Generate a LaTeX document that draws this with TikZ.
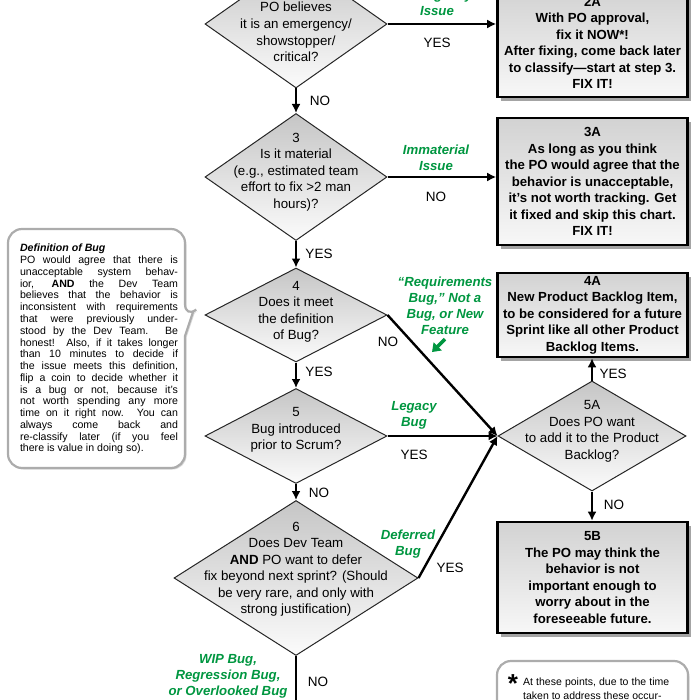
\documentclass[tikz,border=0pt]{standalone}
\usepackage{fontspec}
\setmainfont{Liberation Sans}
\usetikzlibrary{shapes.geometric, arrows.meta, shadows}

\definecolor{bugGreen}{RGB}{0,150,64}

\tikzstyle{decision} = [diamond, draw=black!85, line width=1pt, top color=gray!45, bottom color=gray!3, inner sep=0pt]
\tikzstyle{qtext} = [align=center, inner sep=0pt, font=\fontsize{13.3}{16.5}\selectfont]
\tikzstyle{action} = [rectangle, draw=black, line width=2.6pt, top color=gray!35, bottom color=gray!6, minimum width=190pt, align=center, inner sep=0pt, font=\bfseries\fontsize{13.2}{16.5}\selectfont, drop shadow={shadow xshift=3pt, shadow yshift=-4pt, opacity=0.55, fill=black!65}]
\tikzstyle{arrow} = [line width=2.4pt, -{Latex[length=9pt, width=9pt]}]
\tikzstyle{answer} = [inner sep=0pt, font=\fontsize{13.5}{16}\selectfont]
\tikzstyle{kind} = [text=bugGreen, align=center, inner sep=0pt, font=\bfseries\itshape\fontsize{13.2}{16}\selectfont]
\tikzstyle{kindarrow} = [draw=bugGreen, line width=3.5pt, -{Triangle[length=8pt, width=11pt]}]
\tikzstyle{bubble} = [draw=gray!65, line width=2.2pt, fill=white, rounded corners=14pt, drop shadow={shadow xshift=1.5pt, shadow yshift=-1.5pt, opacity=0.3}]
\tikzstyle{bubbletext} = [align=justify, inner sep=0pt, text width=158pt, font=\fontsize{10.6}{11.77}\selectfont]

\begin{document}
\begin{tikzpicture}[x=1pt, y=-1pt]
	\useasboundingbox (0,0) rectangle (700,700);

	% questions down the middle
	\node (q2) [decision, minimum width=182pt, minimum height=128pt] at (296,24) {};
	\node (q2t) [qtext] at (296,32) {PO believes\\it is an emergency/\\showstopper/\\critical?};
	\node (q3) [decision, minimum width=182pt, minimum height=127pt] at (296,177) {};
	\node (q3t) [qtext] at (296,172) {3\\Is it material\\(e.g., estimated team\\effort to fix >2 man\\hours)?};
	\node (q4) [decision, minimum width=182pt, minimum height=94pt] at (296,315) {};
	\node (q4t) [qtext] at (296,312) {4\\Does it meet\\the definition\\of Bug?};
	\node (q5) [decision, minimum width=182pt, minimum height=95pt] at (296,436) {};
	\node (q5t) [qtext] at (296,430) {5\\Bug introduced\\prior to Scrum?};
	\node (q6) [decision, minimum width=244pt, minimum height=155pt] at (296,578) {};
	\node (q6t) [qtext] at (296,569) {6\\Does Dev Team\\\textbf{AND} PO want to defer\\fix beyond next sprint? (Should\\be very rare, and only with\\strong justification)};
	\node (q5A) [decision, minimum width=188pt, minimum height=110pt] at (592,436) {};
	\node (q5At) [qtext] at (592,431.5) {5A\\Does PO want\\to add it to the Product\\Backlog?};
	\coordinate (out6) at (296,730);

	% outcomes on the right
	\node (a2A) [action, minimum height=108pt] at (592.5,43) {2A\\With PO approval,\\fix it NOW*!\\After fixing, come back later\\to classify—start at step 3.\\FIX IT!};
	\node (a3A) [action, minimum height=127pt] at (592.5,181.5) {3A\\As long as you think\\the PO would agree that the\\behavior is unacceptable,\\it’s not worth tracking. Get\\it fixed and skip this chart.\\FIX IT!};
	\node (a4A) [action, minimum height=84pt] at (592.5,315) {4A\\New Product Backlog Item,\\to be considered for a future\\Sprint like all other Product\\Backlog Items.};
	\node (a5B) [action, minimum height=111pt] at (592.5,577.5) {5B\\The PO may think the\\behavior is not\\important enough to\\worry about in the\\foreseeable future.};

	\draw [arrow] (q2.east) -- (q2.east -| a2A.west);
	\draw [arrow] (q2.south) -- (q3.north);
	\draw [arrow] (q3.east) -- (q3.east -| a3A.west);
	\draw [arrow] (q3.south) -- (q4.north);
	\draw [arrow] (q4.south) -- (q5.north);
	\draw [arrow] (q4.east) -- (q5A.west);
	\draw [arrow] (q5.east) -- (q5A.west);
	\draw [arrow] (q5.south) -- (q6.north);
	\draw [arrow] (q6.east) -- (q5A.west);
	\draw [arrow] (q6.south) -- (out6);
	\draw [arrow] (q5A.north) -- (q5A.north |- a4A.south);
	\draw [arrow] (q5A.south) -- (q5A.south |- a5B.north);

	% yes / no
	\node (yes2) [answer] at (437,43) {YES};
	\node (no2) [answer] at (320,101) {NO};
	\node (no3) [answer] at (436,197) {NO};
	\node (yes3) [answer] at (319,254) {YES};
	\node (no4) [answer] at (388,342) {NO};
	\node (yes4) [answer] at (319,372) {YES};
	\node (yes5) [answer] at (414,455) {YES};
	\node (no5) [answer] at (319,493) {NO};
	\node (yes6) [answer] at (450,568) {YES};
	\node (no6) [answer] at (318,682) {NO};
	\node (yes5A) [answer] at (613,374) {YES};
	\node (no5A) [answer] at (614,505) {NO};

	% kinds of issue
	\node (emerg) [kind] at (437,3) {Emergency\\Issue};
	\node (immat) [kind] at (436,157.5) {Immaterial\\Issue};
	\node (reqbug) [kind] at (445,306) {“Requirements\\Bug,” Not a\\Bug, or New\\Feature};
	\node (legacy) [kind] at (414,415) {Legacy\\Bug};
	\node (deferred) [kind] at (408,544) {Deferred\\Bug};
	\node (wip) [kind] at (228,676) {WIP Bug,\\Regression Bug,\\or Overlooked Bug};
	\draw [kindarrow] ([xshift=0pt, yshift=-4pt]reqbug.south) -- ++(-13,13);

	% definition of bug
	\draw [bubble] (8,300) -- (8,229) -- (185,229) -- (185,318) [sharp corners] -- (193,312) -- (185,336) [rounded corners=14pt] -- (185,468) -- (8,468) -- cycle;
	\node (defbug) [bubbletext, anchor=north] at (99,244) {\tolerance=10000 \hbadness=10000 \hyphenpenalty=10000
		\textbf{\textit{Definition of Bug}}\\
		PO would agree that there is\linebreak
		unacceptable system behav-\linebreak
		ior, \textbf{AND} the Dev Team\linebreak
		believes that the behavior is\linebreak
		inconsistent with requirements\linebreak
		that were previously under-\linebreak
		stood by the Dev Team. Be\linebreak
		honest! Also, if it takes longer\linebreak
		than 10 minutes to decide if\linebreak
		the issue meets this definition,\linebreak
		flip a coin to decide whether it\linebreak
		is a bug or not, because it’s\linebreak
		not worth spending any more\linebreak
		time on it right now. You can\linebreak
		always come back and\linebreak
		re-classify later (if you feel\linebreak
		there is value in doing so).};

	% footnote
	\draw [bubble] (497,661) rectangle (688,780);
	\node (star) [inner sep=0pt, font=\bfseries\fontsize{26}{26}\selectfont] at (513,684) {*};
	\node (note) [bubbletext, text width=146pt, anchor=north west, font=\fontsize{10.5}{14}\selectfont] at (523,678) {\tolerance=10000 \hbadness=10000 \parfillskip=0pt
		At these points, due to the time\linebreak
		taken to address these occur-};
\end{tikzpicture}
\end{document}
